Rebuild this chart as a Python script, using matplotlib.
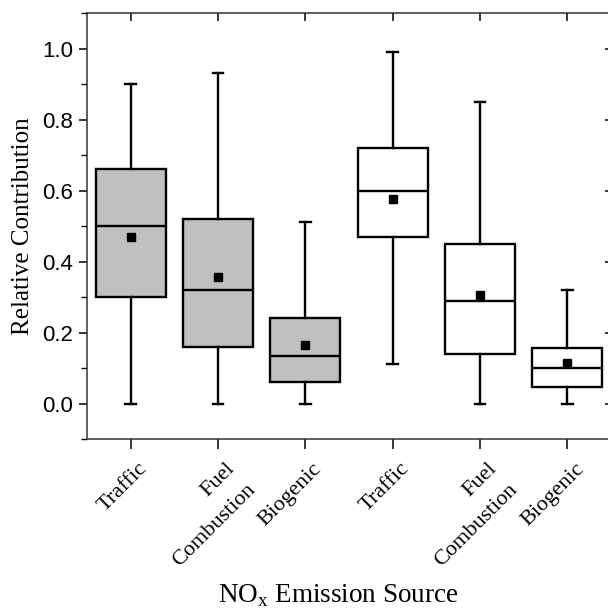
import matplotlib
matplotlib.use("Agg")
import matplotlib.pyplot as plt
from matplotlib.ticker import MultipleLocator
from matplotlib.transforms import ScaledTranslation, blended_transform_factory

categories = ["Traffic", "Fuel\nCombustion", "Biogenic", "Traffic", "Fuel\nCombustion", "Biogenic"]
whislo = [0.0, 0.0, 0.0, 0.11, 0.0, 0.0]
q1 = [0.30, 0.16, 0.06, 0.47, 0.14, 0.047]
med = [0.50, 0.32, 0.135, 0.60, 0.29, 0.099]
q3 = [0.66, 0.52, 0.24, 0.72, 0.45, 0.157]
whishi = [0.90, 0.93, 0.51, 0.99, 0.85, 0.32]
mean = [0.47, 0.355, 0.165, 0.575, 0.305, 0.115]
fills = ["#c0c0c0", "#c0c0c0", "#c0c0c0", "#ffffff", "#ffffff", "#ffffff"]

fig = plt.figure(figsize=(6.08, 6.11), dpi=100)
ax = fig.add_axes([0.143, 0.2815, 0.862, 0.6972])

stats = []
for i in range(len(categories)):
    stats.append(dict(whislo=whislo[i], q1=q1[i], med=med[i], q3=q3[i],
                      whishi=whishi[i], mean=mean[i], fliers=[]))

pos = list(range(1, len(categories) + 1))
bp = ax.bxp(stats, positions=pos, widths=0.8, showmeans=True, patch_artist=True,
            showfliers=False,
            boxprops=dict(linewidth=1.7, edgecolor="black"),
            medianprops=dict(color="black", linewidth=1.7),
            whiskerprops=dict(color="black", linewidth=1.7),
            capprops=dict(color="black", linewidth=1.7),
            meanprops=dict(marker="s", markerfacecolor="black", markeredgecolor="black", markersize=6),
            capwidths=0.12)
for patch, c in zip(bp["boxes"], fills):
    patch.set_facecolor(c)

ax.set_xlim(0.5, 6.5)
ax.set_ylim(-0.1, 1.1)
ax.set_yticks([0.0, 0.2, 0.4, 0.6, 0.8, 1.0])
ax.set_yticklabels(["0.0", "0.2", "0.4", "0.6", "0.8", "1.0"], fontfamily="Liberation Sans", fontsize=16)
ax.yaxis.set_minor_locator(MultipleLocator(0.1))
ax.set_xticks(pos)
ax.set_xticklabels([])

# rotated category labels, placed under each tick
trans = blended_transform_factory(ax.transData, ax.transAxes) + \
    ScaledTranslation(0.07, -0.205, fig.dpi_scale_trans)
for p, name in zip(pos, categories):
    ax.text(p, 0, name, transform=trans, fontfamily="Liberation Serif", fontsize=16,
            rotation=45, ha="right", va="top", rotation_mode="anchor",
            multialignment="right", linespacing=1.75, clip_on=False)

for s in ax.spines.values():
    s.set_linewidth(1.1)
    s.set_color("#333333")

ax.tick_params(axis="y", which="major", direction="out", length=6, width=1.1, left=True, right=True, pad=4)
ax.tick_params(axis="y", which="minor", direction="out", length=4, width=1.0, left=True, right=False)
ax.tick_params(axis="x", which="major", direction="out", length=7, width=1.1, top=True, bottom=True, pad=4)

ax.set_ylabel("Relative Contribution", fontfamily="Liberation Serif", fontsize=18, labelpad=6)
ax.set_xlabel("NO$_\\mathregular{x}$ Emission Source", fontfamily="Liberation Serif", fontsize=19.5)
ax.xaxis.set_label_coords(0.479, -0.338)

# inward ticks on top and right
secx = ax.secondary_xaxis("top")
secx.set_xticks(pos)
secx.set_xticklabels([])
secx.tick_params(direction="in", length=6, width=1.1)
ax.tick_params(axis="x", top=False)
secy = ax.secondary_yaxis("right")
secy.set_yticks([0.0, 0.2, 0.4, 0.6, 0.8, 1.0])
secy.set_yticklabels([])
secy.tick_params(direction="in", length=4, width=1.1)
ax.tick_params(axis="y", which="major", right=False)
for sa in (secx, secy):
    for s in sa.spines.values():
        s.set_visible(False)

fig.savefig("out.png", dpi=100)
